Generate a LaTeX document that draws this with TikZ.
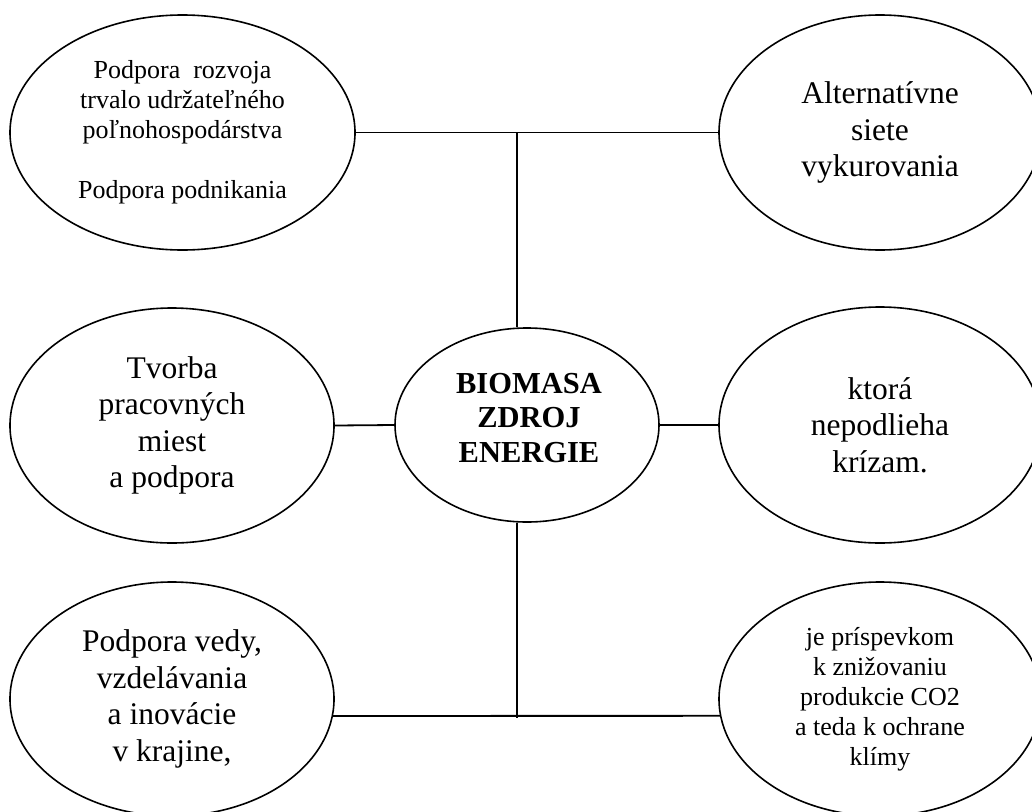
\documentclass[tikz,border=0pt]{standalone}
\usepackage{fontspec}
\setmainfont{Liberation Serif}
\usetikzlibrary{shapes.geometric}
\begin{document}
\begin{tikzpicture}[x=1pt,y=-1pt,
  bub/.style={draw, ellipse, line width=1.6pt, inner sep=0pt, align=center, text=black},
  small/.style={font=\fontsize{26}{30}\selectfont},
  big/.style={font=\fontsize{31.5}{36.5}\selectfont},
  core/.style={font=\fontsize{30.5}{34.5}\selectfont\bfseries},
  conn/.style={line width=1.8pt}]
\useasboundingbox (0,0) rectangle (1032,811);
\fill[white] (0,0) rectangle (1032,811);

\node[bub, small, minimum width=345pt, minimum height=235pt] (tl) at (182.5,132.5)
  {Podpora\ \ rozvoja\\trvalo udržateľného\\poľnohospodárstva\\[30pt]Podpora podnikania};
\node[bub, big, minimum width=322pt, minimum height=235pt] (tr) at (880,132.5)
  {Alternatívne\\siete\\vykurovania};
\node[bub, big, minimum width=324pt, minimum height=235pt] (ml) at (172,425.5)
  {Tvorba\\pracovných\\miest\\a podpora};
\node[bub, minimum width=264pt, minimum height=194pt] (c) at (527,425)
  {};
\node[core, align=center, inner sep=0pt] (ct) at (529,418) {BIOMASA\\ZDROJ\\ENERGIE};
\node[bub, big, minimum width=322pt, minimum height=236pt] (mr) at (880,425)
  {ktorá\\nepodlieha\\krízam.};
\node[bub, big, minimum width=324pt, minimum height=234pt] (bl) at (172,699)
  {Podpora vedy,\\vzdelávania\\a inovácie\\v krajine,};
\node[bub, small, minimum width=322pt, minimum height=234pt] (br) at (880,699)
  {je príspevkom\\k znižovaniu\\produkcie CO2\\a teda k ochrane\\klímy};

\coordinate (jt) at (517,132.5);
\coordinate (jb) at (517,718);

\draw[conn] (tl.east) -- (tr.west);
\draw[conn] (jt) -- (jt |- c.north);
\draw[conn] (ml.east) -- (c.west);
\draw[conn] (c.east) -- (mr.west);
\draw[conn] (jb |- c.south) -- (jb);
\draw[conn] (bl.-6.7) -- (br.186.7);
\end{tikzpicture}
\end{document}
